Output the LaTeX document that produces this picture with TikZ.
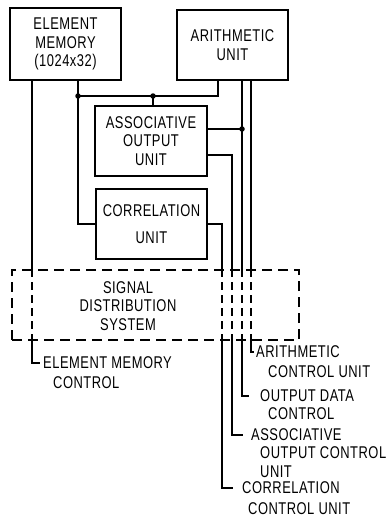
\documentclass[tikz,border=0pt]{standalone}
\usepackage{fontspec}
\setmainfont[FakeStretch=0.76,LetterSpace=3]{Liberation Sans}
\newcommand\lettr{\fontsize{17pt}{18.5pt}\selectfont}
\begin{document}
\begin{tikzpicture}[x=1pt,y=-1pt,
  box/.style={draw, line width=2.4pt, align=center, inner sep=0pt, font=\lettr},
  sdsbox/.style={draw, line width=2pt, dash pattern=on 10pt off 6pt},
  conn/.style={line width=1.8pt},
  dashline/.style={line width=1.8pt, dash pattern=on 8pt off 5pt},
  dot/.style={circle, fill, inner sep=0pt, minimum size=5.5pt},
  lbl/.style={anchor=west, inner sep=0pt, font=\lettr}]
\useasboundingbox (0,0) rectangle (391,519);

% boxes
\node[box, minimum width=111pt, minimum height=72pt] (em) at (65.5,44) {ELEMENT\\MEMORY\\(1024x32)};
\node[box, minimum width=111pt, minimum height=70pt] (au) at (232.5,45) {ARITHMETIC\\UNIT};
\node[box, minimum width=112pt, minimum height=70pt] (aou) at (151,141) {ASSOCIATIVE\\OUTPUT\\UNIT};
\node[box, minimum width=111pt, minimum height=70pt] (cu) at (151.5,224) {CORRELATION\\[8pt]UNIT};
\node[sdsbox, minimum width=287pt, minimum height=70pt] (sds) at (155.5,305) {};
\node[align=center, font=\lettr, inner sep=0pt] (sdst) at (128,306) {SIGNAL\\DISTRIBUTION\\SYSTEM};

% labels
\node[lbl] (emc1) at (43,363) {ELEMENT MEMORY};
\node[lbl] (emc2) at (53,383) {CONTROL};
\node[lbl] (ac1) at (256,352) {ARITHMETIC};
\node[lbl] (ac2) at (268,372) {CONTROL UNIT};
\node[lbl] (od1) at (260,396) {OUTPUT DATA};
\node[lbl] (od2) at (268,414) {CONTROL};
\node[lbl] (ao1) at (251,435) {ASSOCIATIVE};
\node[lbl] (ao2) at (260,453) {OUTPUT CONTROL};
\node[lbl] (ao3) at (260,472) {UNIT};
\node[lbl] (cc1) at (242,488) {CORRELATION};
\node[lbl] (cc2) at (248,509) {CONTROL UNIT};

% junction dots
\node[dot] (j1) at (78,96) {};
\node[dot] (j2) at (153,96) {};
\node[dot] (j3) at (242,129) {};

% bus between element memory, arithmetic unit, associative output unit, correlation unit
\draw[conn] (78,0 |- em.south) -- (j1.center) -- (j2.center) -| (218,0 |- au.south);
\draw[conn] (j2.center) -- (j2 |- aou.north);
\draw[conn] (j1.center) |- (cu.west);

% element memory control
\draw[conn] (32,0 |- em.south) -- (32,0 |- sds.north);
\draw[dashline] (32,0 |- sds.north) -- (32,0 |- sds.south);
\draw[conn] (32,0 |- sds.south) |- ([xshift=-3pt]emc1.west);

% right-hand lines
\draw[conn] (242,0 |- au.south) -- (242,0 |- sds.north);
\draw[conn] (251,0 |- au.south) -- (251,0 |- sds.north);
\draw[conn] (j3 -| aou.east) -- (j3.center);
\draw[conn] (aou.east |- 0,155) -| (232,0 |- sds.north);
\draw[conn] (cu.east) -| (222,0 |- sds.north);
\foreach \x in {222,232,242,251}
  \draw[dashline] (\x,0 |- sds.north) -- (\x,0 |- sds.south);

% control outputs
\draw[conn] (251,0 |- sds.south) |- ([xshift=-2pt]ac1.west);
\draw[conn] (242,0 |- sds.south) |- ([xshift=-11pt]od1.west);
\draw[conn] (232,0 |- sds.south) |- ([xshift=-8pt]ao1.west);
\draw[conn] (222,0 |- sds.south) |- ([xshift=-9pt]cc1.west);
\end{tikzpicture}
\end{document}
